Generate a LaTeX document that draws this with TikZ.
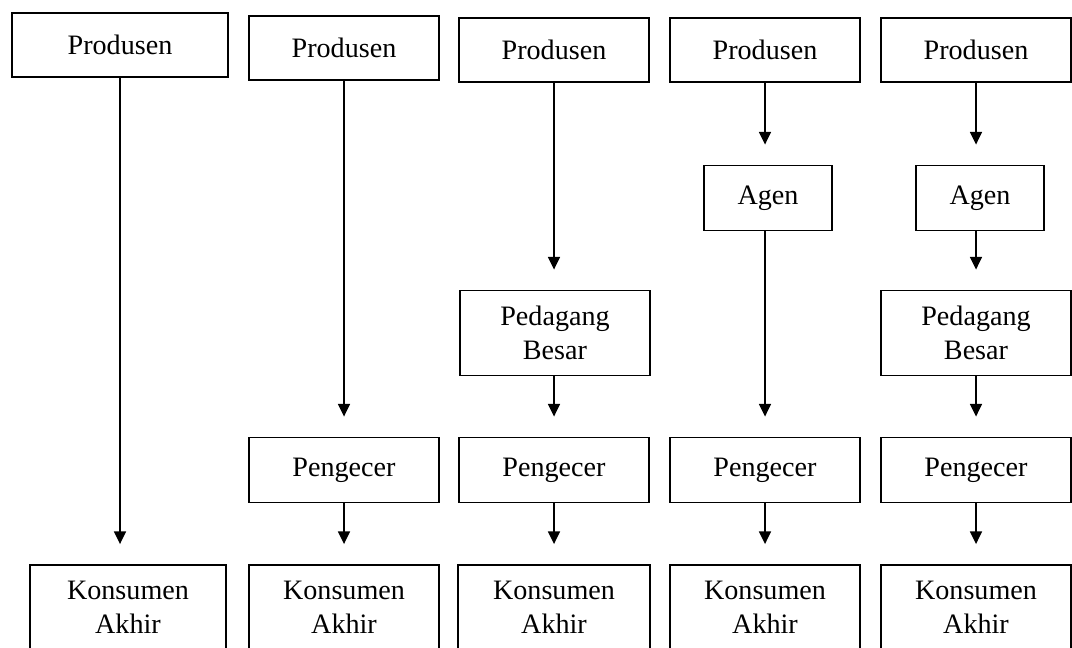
\documentclass[tikz,border=0pt]{standalone}
\usepackage{fontspec}
\setmainfont{Liberation Serif}
\usetikzlibrary{arrows.meta}

\tikzset{
  box/.style={draw,line width=1.3pt,align=center,inner sep=0pt,
    font=\fontsize{20}{24}\selectfont},
  boxsize/.style 2 args={minimum width=#1*0.025cm,minimum height=#2*0.025cm},
  flow/.style={-{Triangle[length=9pt,width=8.5pt]},line width=1.3pt,shorten >=0.5cm}
}

\begin{document}
\begin{tikzpicture}[x=0.025cm,y=-0.025cm]
      \useasboundingbox (0,0) rectangle (1072,647);

      % Top row: Produsen
      \foreach \i/\x/\w/\y in {1/120/216/45,2/344/190/48,3/554/190/50,4/765/190/50,5/976/190/50} {
        \node[box,boxsize={\w}{64}] (p\i) at (\x,\y) {Produsen};
      }

      % Bottom row: Konsumen Akhir
      \foreach \i/\x/\w in {1/128/196,2/344/190,3/554/192,4/765/190,5/976/190} {
        \node[box,boxsize={\w}{84}] (k\i) at (\x,607) {Konsumen\\Akhir};
      }

      % Pengecer row
      \foreach \i/\x in {2/344,3/554,4/765,5/976} {
        \node[box,boxsize={190}{65}] (r\i) at (\x,470) {Pengecer};
      }

      % Agen and Pedagang Besar
      \node[box,boxsize={128}{65}] (a4) at (768,198) {Agen};
      \node[box,boxsize={128}{65}] (a5) at (980,198) {Agen};
      \node[box,boxsize={190}{85}] (b3) at (555,333) {Pedagang\\Besar};
      \node[box,boxsize={190}{85}] (b5) at (976,333) {Pedagang\\Besar};

      % Draw the arrows
      \draw[flow] (p1.south) -- (p1.south |- k1.north);
      \draw[flow] (p2.south) -- (p2.south |- r2.north);
      \draw[flow] (p3.south) -- (p3.south |- b3.north);
      \draw[flow] (p4.south) -- (p4.south |- a4.north);
      \draw[flow] (p5.south) -- (p5.south |- a5.north);
      \draw[flow] (a4.south -| p4.south) -- (p4.south |- r4.north);
      \draw[flow] (a5.south -| p5.south) -- (p5.south |- b5.north);
      \draw[flow] (b3.south -| p3.south) -- (p3.south |- r3.north);
      \draw[flow] (b5.south -| p5.south) -- (p5.south |- r5.north);
      \foreach \i in {2,...,5} {
        \draw[flow] (r\i.south) -- (r\i.south |- k\i.north);
      }
\end{tikzpicture}
\end{document}
